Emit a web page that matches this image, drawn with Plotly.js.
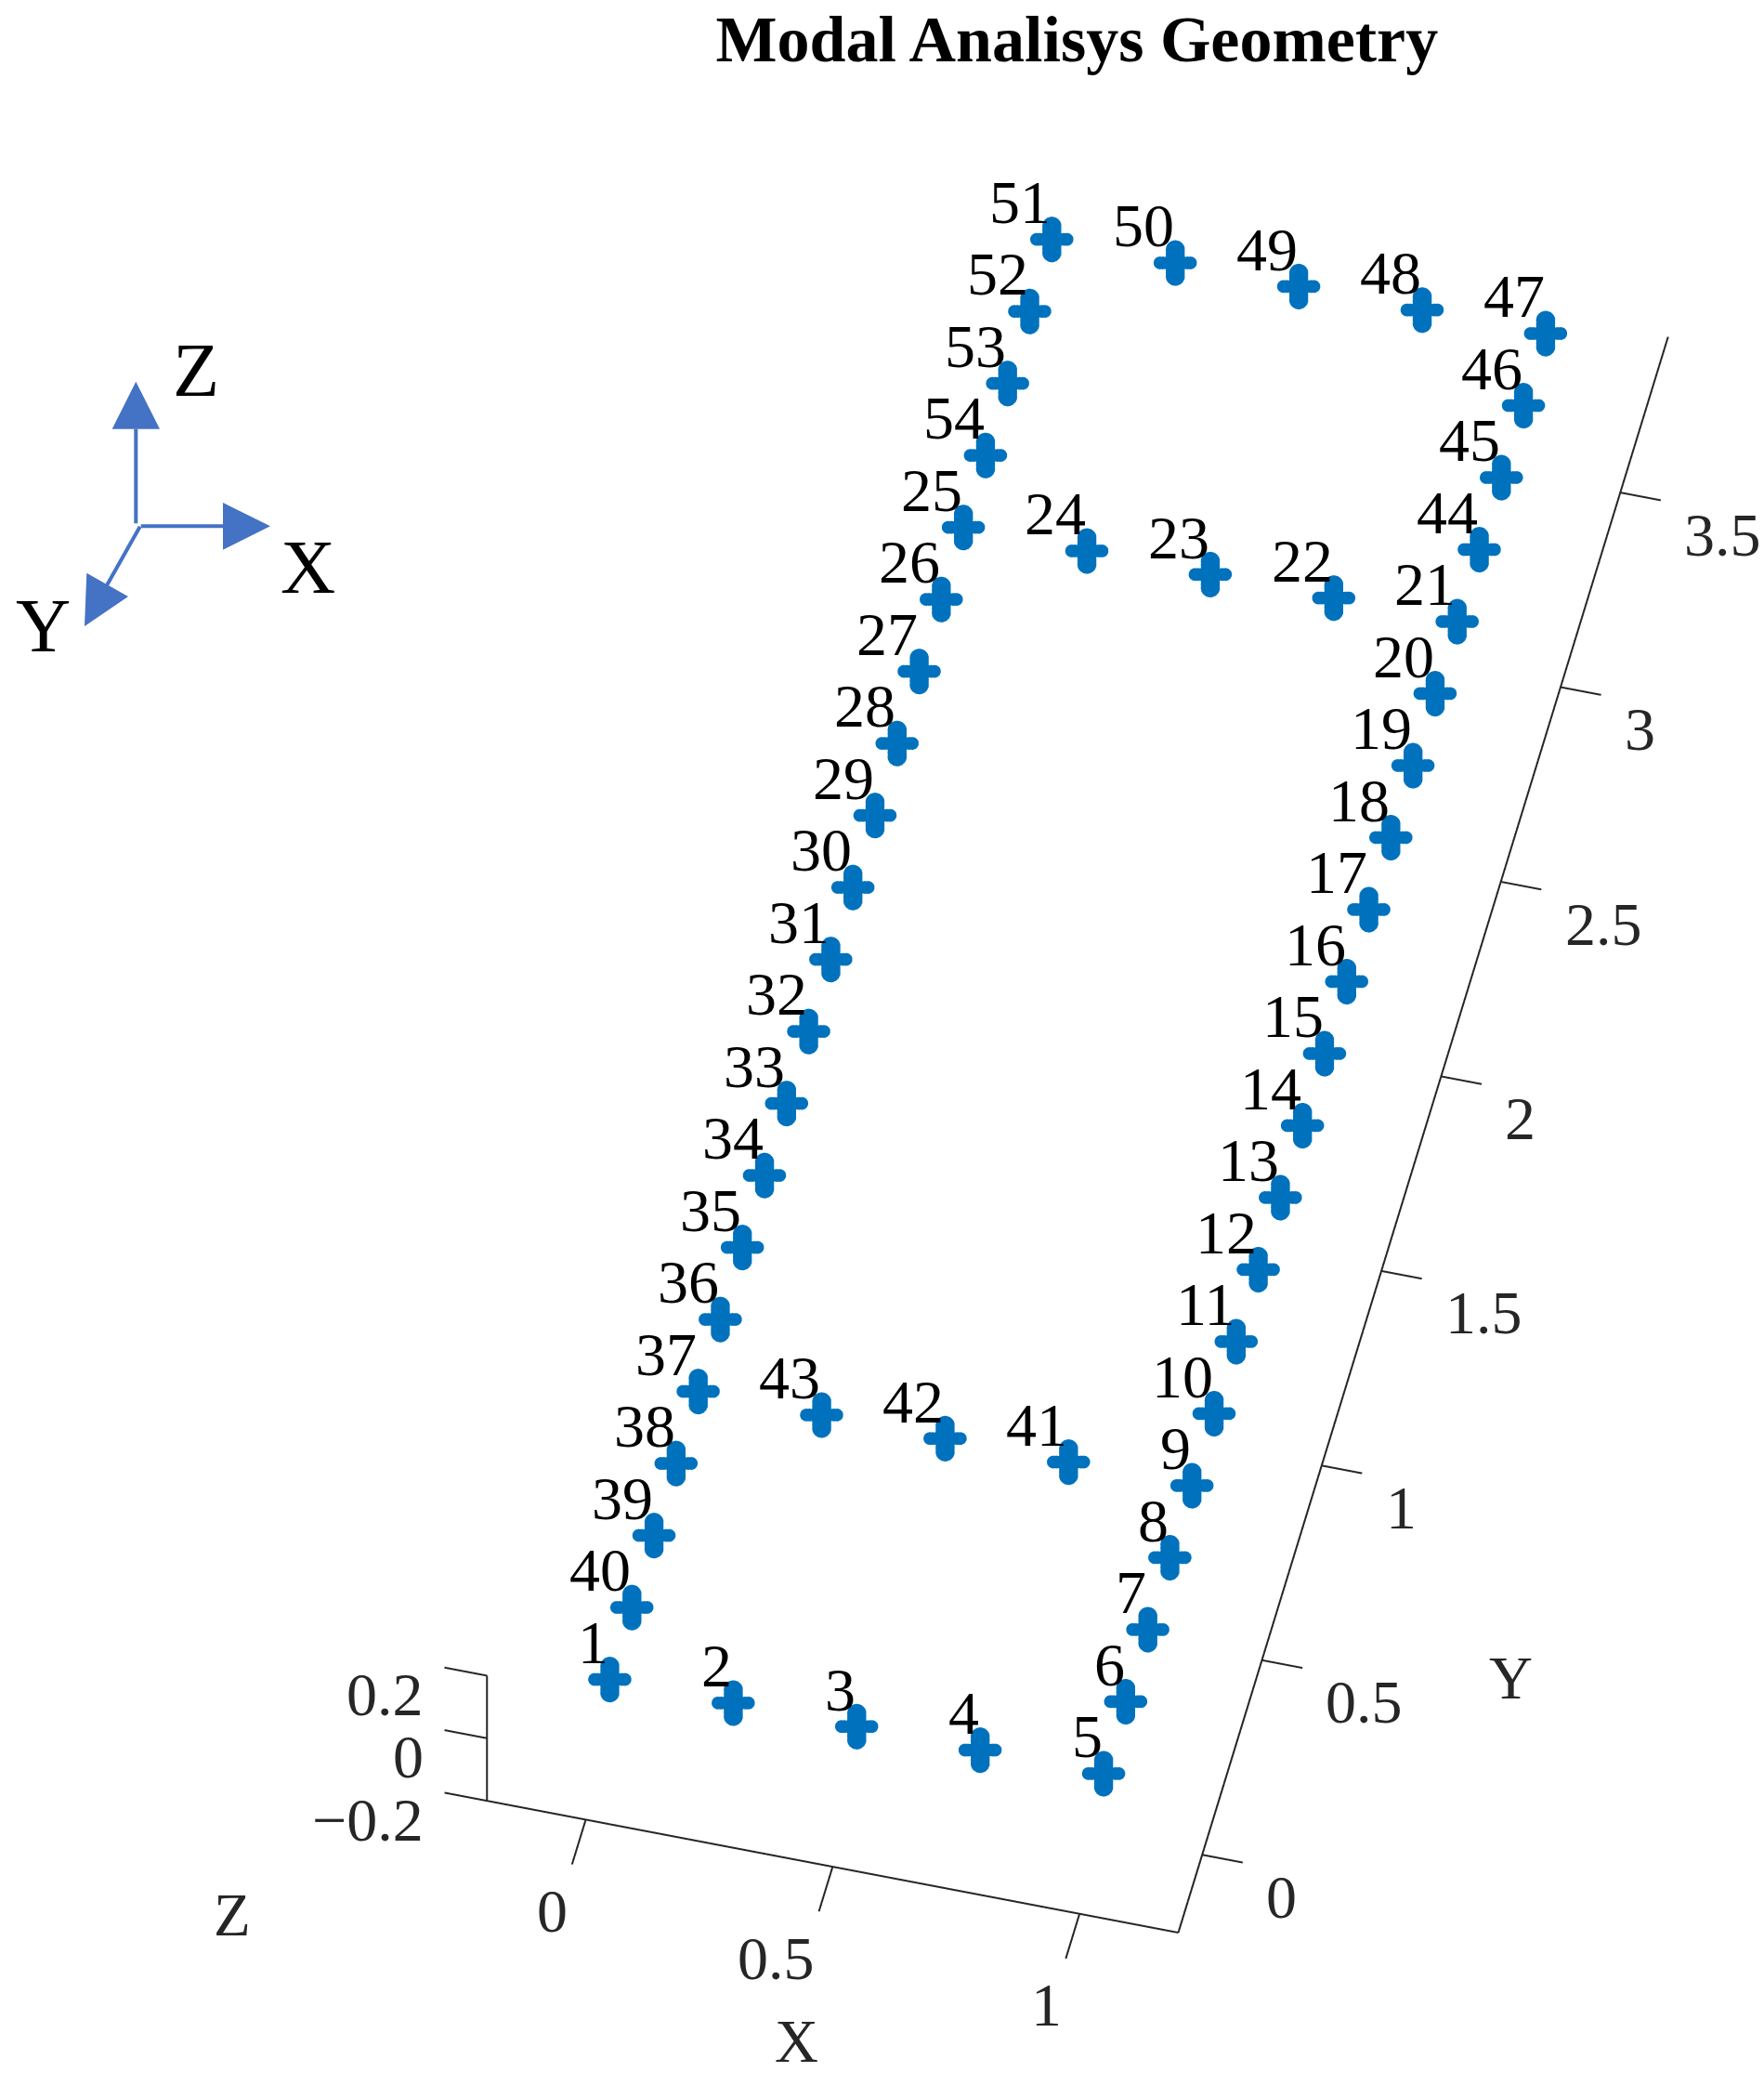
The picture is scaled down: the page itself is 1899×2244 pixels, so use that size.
<!DOCTYPE html>
<html>
<head>
<meta charset="utf-8">
<script src="https://cdn.plot.ly/plotly-3.0.1.min.js"></script>
<style>html,body{margin:0;padding:0;background:#fff}</style>
</head>
<body>
<div id="chart" style="width:1899px;height:2244px"></div>
<script>
// node coordinates of the test geometry, numbered 1..54
const nodeX = [0, 0.25, 0.5, 0.75, 1,
    1, 1, 1, 1, 1, 1, 1, 1, 1, 1, 1, 1, 1, 1, 1, 1,
    0.75, 0.5, 0.25,
    0, 0, 0, 0, 0, 0, 0, 0, 0, 0, 0, 0, 0, 0, 0, 0,
    0.75, 0.5, 0.25,
    1, 1, 1, 1,
    0.75, 0.5, 0.25,
    0, 0, 0, 0];
const nodeY = [0, 0, 0, 0, 0,
    0.185, 0.37, 0.555, 0.74, 0.925, 1.11, 1.295, 1.48, 1.665, 1.85, 2.035, 2.22, 2.405, 2.59, 2.775, 2.96,
    2.96, 2.96, 2.96,
    2.96, 2.775, 2.59, 2.405, 2.22, 2.035, 1.85, 1.665, 1.48, 1.295, 1.11, 0.925, 0.74, 0.555, 0.37, 0.185,
    0.74, 0.74, 0.74,
    3.145, 3.33, 3.515, 3.7,
    3.7, 3.7, 3.7,
    3.7, 3.515, 3.33, 3.145];
const nodeZ = nodeX.map(() => 0);
const nodeLabels = nodeX.map((v, i) => String(i + 1));

const xTicks = [0, 0.5, 1];
const yTicks = [0, 0.5, 1, 1.5, 2, 2.5, 3, 3.5];
const zTicks = [-0.2, 0, 0.2];
const xRange = [-0.2, 1.2];
const yRange = [-0.2, 3.9];
const zRange = [-0.2, 0.2];

const serif = '"Liberation Serif", serif';
const W = 1899, H = 2244;
const inkColor = '#262626';
const triadColor = '#4472C4';
const nodeColor = '#0072BD';

// view angles of the original figure, az 13.6 el 52
const az = 13.6 * Math.PI / 180, el = 52 * Math.PI / 180;
const screenRight = [Math.cos(az), Math.sin(az), 0];
const screenUp = [-Math.sin(az) * Math.sin(el), Math.cos(az) * Math.sin(el), Math.cos(el)];

// axis frame and tick marks, as one broken 3d line
const fx = [], fy = [], fz = [];
function seg(a, b) {
    fx.push(a[0], b[0], null);
    fy.push(a[1], b[1], null);
    fz.push(a[2], b[2], null);
}
seg([xRange[0], yRange[0], zRange[0]], [xRange[1], yRange[0], zRange[0]]);
seg([xRange[1], yRange[0], zRange[0]], [xRange[1], yRange[1], zRange[0]]);
seg([xRange[0], yRange[0], zRange[0]], [xRange[0], yRange[0], zRange[1]]);
xTicks.forEach(t => seg([t, yRange[0], zRange[0]], [t, yRange[0] - 0.115, zRange[0]]));
yTicks.forEach(t => seg([xRange[1], t, zRange[0]], [xRange[1] + 0.082, t, zRange[0]]));
zTicks.forEach(t => seg([xRange[0], yRange[0], t], [xRange[0] - 0.086, yRange[0], t]));

// gl lines stop getting thicker after a few pixels and the plus glyph is thin,
// so the fat plus of each node is built from round markers facing the camera
function beads(dir, steps) {
    const b = { x: [], y: [], z: [] };
    nodeX.forEach((v, i) => {
        steps.forEach(d => {
            b.x.push(nodeX[i] + dir[0] * d);
            b.y.push(nodeY[i] + dir[1] * d);
            b.z.push(nodeZ[i] + dir[2] * d);
        });
    });
    return b;
}
const barH = beads(screenRight, [-0.03, -0.024, -0.016, -0.008, 0, 0.008, 0.016, 0.024, 0.03]);
const barV = beads(screenUp, [-0.026, -0.019, -0.0125, -0.006, 0, 0.006, 0.0125, 0.019, 0.026]);

const frameTrace = {
    type: 'scatter3d', mode: 'lines', x: fx, y: fy, z: fz,
    line: { color: inkColor, width: 4 }, hoverinfo: 'skip', showlegend: false
};
const nodeTrace = {
    type: 'scatter3d', mode: 'markers', x: nodeX, y: nodeY, z: nodeZ,
    marker: { symbol: 'cross', size: 22, color: nodeColor },
    hoverinfo: 'skip', showlegend: false
};
const barHTrace = {
    type: 'scatter3d', mode: 'markers', x: barH.x, y: barH.y, z: barH.z,
    marker: { symbol: 'circle', size: 8, color: nodeColor },
    hoverinfo: 'skip', showlegend: false
};
const barVTrace = {
    type: 'scatter3d', mode: 'markers', x: barV.x, y: barV.y, z: barV.z,
    marker: { symbol: 'circle', size: 12, color: nodeColor },
    hoverinfo: 'skip', showlegend: false
};

// text sits in the scene as annotations so it stays real text
const sceneNotes = [];
function note(x, y, z, text, size, color, xanchor, xshift, yshift) {
    sceneNotes.push({ x, y, z, text, showarrow: false, xanchor, yanchor: 'middle', xshift, yshift,
        font: { family: serif, size, color } });
}
nodeLabels.forEach((t, i) => note(nodeX[i], nodeY[i], nodeZ[i], t, 66, '#000000', 'right', 1, 40));
xTicks.forEach(t => note(t, yRange[0], zRange[0], String(t), 66, inkColor, 'right', -17, -98));
yTicks.forEach(t => note(xRange[1], t, zRange[0], String(t), 66, inkColor, 'left', 67, -45));
zTicks.forEach(t => note(xRange[0], yRange[0], t, String(t).replace('-', '\u2212'), 66, inkColor, 'right', -66, -20));

// triad drawn on the paper, pixel positions from the top left corner
const px = v => v / W;
const py = v => 1 - v / H;
function tri(a, b, c) {
    return {
        type: 'path', xref: 'paper', yref: 'paper', fillcolor: triadColor, line: { width: 0 },
        path: `M ${px(a[0])} ${py(a[1])} L ${px(b[0])} ${py(b[1])} L ${px(c[0])} ${py(c[1])} Z`
    };
}
function stem(a, b) {
    return {
        type: 'line', xref: 'paper', yref: 'paper', x0: px(a[0]), y0: py(a[1]), x1: px(b[0]), y1: py(b[1]),
        line: { color: triadColor, width: 4 }
    };
}
const shapes = [
    stem([146.3, 563.3], [146.3, 461.7]), tri([146.3, 410.7], [120.7, 461.7], [172, 461.7]),
    stem([151.7, 566.3], [240, 566.3]), tri([240, 541], [240, 591.7], [291, 566.3]),
    stem([150.7, 566.7], [115, 630]), tri([93.3, 616.7], [138, 642], [91, 674])
];

function paperText(x, y, text, size, color) {
    return { xref: 'paper', yref: 'paper', x: px(x), y: py(y), text, showarrow: false,
        xanchor: 'center', yanchor: 'middle', font: { family: serif, size, color } };
}
const annotations = [
    paperText(211, 399, 'Z', 82, '#000000'),
    paperText(331, 611, 'X', 82, '#000000'),
    paperText(46, 673, 'Y', 82, '#000000'),
    paperText(857, 2197, 'X', 65, inkColor),
    paperText(1626, 1806, 'Y', 65, inkColor),
    paperText(250, 2061, 'Z', 65, inkColor)
];

const hiddenAxis = { visible: false, showgrid: false, zeroline: false, showbackground: false, showspikes: false };

// scene box is a bit larger than the drawn frame, marks get clipped at the box and ticks stick out
const boxX = [-0.3, 1.3], boxY = [-0.35, 4.05];
const unitAspect = 0.505;

const layout = {
    width: W, height: H,
    margin: { l: 0, r: 0, t: 0, b: 0 },
    paper_bgcolor: '#ffffff',
    showlegend: false,
    title: {
        text: '<b>Modal Analisys Geometry</b>',
        font: { family: serif, size: 70, color: '#000000' },
        x: 0.6105, xanchor: 'center', y: 1 - 41 / H, yanchor: 'middle'
    },
    scene: {
        domain: { x: [0.2216, 1], y: [0.0347, 1] },
        aspectmode: 'manual',
        aspectratio: {
            x: (boxX[1] - boxX[0]) * unitAspect,
            y: (boxY[1] - boxY[0]) * unitAspect,
            z: (zRange[1] - zRange[0]) * unitAspect
        },
        camera: {
            projection: { type: 'orthographic' },
            eye: { x: Math.sin(az) * Math.cos(el) * 3, y: -Math.cos(az) * Math.cos(el) * 3, z: Math.sin(el) * 3 },
            center: { x: 0, y: 0, z: 0 },
            up: { x: 0, y: 0, z: 1 }
        },
        xaxis: Object.assign({ range: boxX }, hiddenAxis),
        yaxis: Object.assign({ range: boxY }, hiddenAxis),
        zaxis: Object.assign({ range: zRange }, hiddenAxis),
        annotations: sceneNotes
    },
    shapes: shapes,
    annotations: annotations
};

Plotly.newPlot('chart', [frameTrace, nodeTrace, barHTrace, barVTrace], layout, { displayModeBar: false });
</script>
</body>
</html>
